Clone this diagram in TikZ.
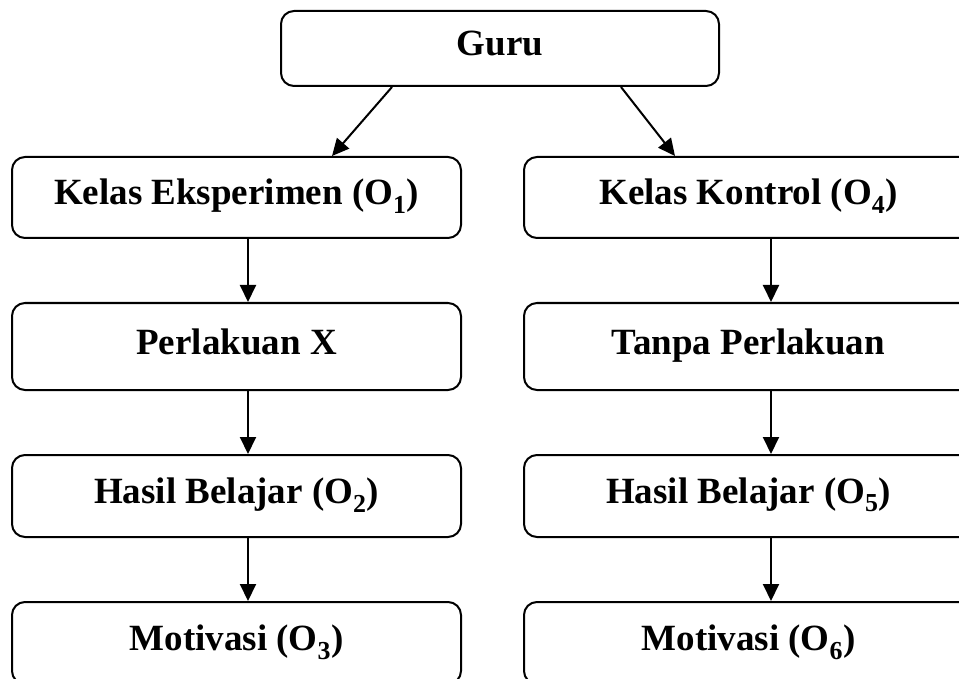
\documentclass[tikz,border=0pt]{standalone}
\usepackage{fontspec}
\setmainfont{Liberation Serif}
\usetikzlibrary{arrows.meta}
\tikzset{
  box/.style={draw=black, line width=2pt, rounded corners=13pt, inner sep=0pt,
    minimum width=449pt, font=\fontsize{37}{42}\selectfont\bfseries,
    text height=25pt, text depth=10pt},
  conn/.style={line width=2pt, -{Triangle[length=17pt,width=16pt]}}
}
\begin{document}
\begin{tikzpicture}[x=1pt,y=-1pt]
\useasboundingbox (0,0) rectangle (959,679);
\node[box, minimum width=438pt, minimum height=75pt] (guru) at (500,48.5) {Guru};
\node[box, minimum height=81pt] (ke) at (236.5,197.5) {Kelas Eksperimen (O\textsubscript{1})};
\node[box, minimum height=87pt] (px) at (236.5,346.5) {Perlakuan X};
\node[box, minimum height=82pt] (hb1) at (236.5,496) {Hasil Belajar (O\textsubscript{2})};
\node[box, minimum height=82pt] (mo1) at (236.5,643) {Motivasi (O\textsubscript{3})};
\node[box, minimum height=81pt] (kk) at (748.5,197.5) {Kelas Kontrol (O\textsubscript{4})};
\node[box, minimum height=87pt] (tp) at (748.5,346.5) {Tanpa Perlakuan};
\node[box, minimum height=82pt] (hb2) at (748.5,496) {Hasil Belajar (O\textsubscript{5})};
\node[box, minimum height=82pt] (mo2) at (748.5,643) {Motivasi (O\textsubscript{6})};
\draw[conn] ([xshift=-108pt]guru.south) -- ([xshift=95.5pt]ke.north);
\draw[conn] ([xshift=121pt]guru.south) -- ([xshift=-73.5pt]kk.north);
\draw[conn] ([xshift=11.5pt]ke.south) -- ([xshift=11.5pt]px.north);
\draw[conn] ([xshift=11.5pt]px.south) -- ([xshift=11.5pt]hb1.north);
\draw[conn] ([xshift=11.5pt]hb1.south) -- ([xshift=11.5pt]mo1.north);
\draw[conn] ([xshift=22.5pt]kk.south) -- ([xshift=22.5pt]tp.north);
\draw[conn] ([xshift=22.5pt]tp.south) -- ([xshift=22.5pt]hb2.north);
\draw[conn] ([xshift=22.5pt]hb2.south) -- ([xshift=22.5pt]mo2.north);
\end{tikzpicture}
\end{document}
